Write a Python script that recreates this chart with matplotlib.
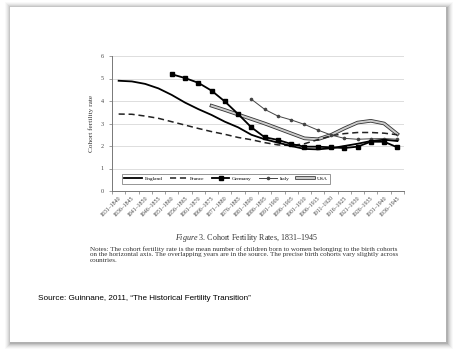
import numpy as np
import matplotlib
matplotlib.use("Agg")
import matplotlib.pyplot as plt
import matplotlib.patheffects as pe
from matplotlib.patches import Rectangle

plt.rcParams["mathtext.fontset"] = "custom"
plt.rcParams["mathtext.rm"] = "Liberation Serif"
plt.rcParams["mathtext.it"] = "Liberation Serif:italic"

nan = np.nan
periods = [f"{s}\u2013{s+9}" for s in range(1831, 1937, 5)]

england = [4.9, 4.87, 4.76, 4.56, 4.27, 3.93, 3.64, 3.38, 3.08, 2.83, 2.5,
           2.3, 2.15, 2.0, 1.87, 1.85, 1.9, 2.0, 2.1, 2.22, 2.28, 2.22]
france = [3.42, 3.41, 3.33, 3.23, 3.08, 2.93, 2.78, 2.64, 2.52, 2.38, 2.28,
          2.15, 2.05, 2.02, 2.1, 2.28, 2.45, 2.55, 2.6, 2.6, 2.57, 2.5]
germany = [nan, nan, nan, nan, 5.19, 5.02, 4.81, 4.46, 3.98, 3.42, 2.83,
           2.39, 2.27, 2.09, 1.97, 1.97, 1.94, 1.91, 1.97, 2.19, 2.19, 1.94]
italy = [nan] * 10 + [4.08, 3.63, 3.33, 3.16, 2.96, 2.71, 2.49, 2.34, 2.3,
                      2.32, 2.33, 2.3]
usa = [nan] * 7 + [3.79, 3.6, 3.4, 3.2, 3.0, 2.78, 2.56, 2.34, 2.3, 2.49,
                   2.78, 3.04, 3.12, 3.0, 2.53]

W, H = 456, 352
fig = plt.figure(figsize=(W / 100, H / 100), dpi=100)
fig.patch.set_facecolor("white")

# slide card with soft shadow
bx0, by0, bx1, by1 = 10, 7, 446, 342
for d, a in [(6, 0.025), (5, 0.035), (4, 0.045), (3, 0.06), (2, 0.08), (1, 0.1)]:
    fig.patches.append(Rectangle(((bx0 - d + 1) / W, 1 - (by1 + d + 1) / H),
                                 (bx1 - bx0 + 2 * d) / W, (by1 - by0 + 2 * d) / H,
                                 transform=fig.transFigure, facecolor="black",
                                 alpha=a, edgecolor="none", zorder=0))
fig.patches.append(Rectangle((bx0 / W, 1 - by1 / H), (bx1 - bx0) / W, (by1 - by0) / H,
                             transform=fig.transFigure, facecolor="white",
                             edgecolor="none", zorder=1))

serif = ["Liberation Serif", "DejaVu Serif"]
ax = fig.add_axes([112 / W, 1 - 191 / H, (404 - 112) / W, (191 - 56) / H])
ax.set_zorder(2)
ax.patch.set_alpha(0)
x = np.arange(len(periods))

ax.plot(x, england, color="black", lw=1.3, label="England", zorder=5)
ax.plot(x, france, color="#222222", lw=1.1, ls=(0, (4, 2.5)), label="France", zorder=4)
ax.plot(x, germany, color="black", lw=1.3, marker="s", ms=3.2, label="Germany", zorder=6)
ax.plot(x, italy, color="#444444", lw=0.7, marker="o", ms=1.6, label="Italy", zorder=4)
ax.plot(x, usa, color="#cccccc", lw=1.4, label="USA", zorder=3,
        path_effects=[pe.Stroke(linewidth=2.6, foreground="#333333"), pe.Normal()])

ax.set_xlim(-0.5, len(periods) - 0.5)
ax.set_ylim(0, 6)
ax.set_yticks(range(7))
ax.grid(axis="y", color="#dddddd", lw=0.7)
ax.set_axisbelow(True)
for s in ["top", "right"]:
    ax.spines[s].set_visible(False)
for s in ["left", "bottom"]:
    ax.spines[s].set_color("#777777")
    ax.spines[s].set_linewidth(0.7)
ax.set_xticks(x)
ax.set_xticklabels(periods, rotation=45, ha="right", rotation_mode="anchor",
                   fontsize=4.2, family=serif, color="#444444")
ax.set_xticks(np.arange(-0.5, len(periods), 1), minor=True)
ax.tick_params(axis="x", which="major", length=0, pad=3)
ax.tick_params(axis="x", which="minor", length=2, color="#777777", width=0.5)
ax.tick_params(axis="y", length=2, color="#777777", width=0.5, pad=4,
               labelsize=4.4, labelcolor="#444444")
for t in ax.get_yticklabels():
    t.set_family(serif)
ax.set_ylabel("Cohort fertility rate", fontsize=5.2, family=serif, color="#333333", labelpad=5)

leg = ax.legend(ncol=5, loc="lower left", bbox_to_anchor=(0.034, 0.055),
                prop={"family": serif, "size": 3.9}, frameon=True, fancybox=False,
                edgecolor="#666666", handlelength=3.2, columnspacing=1.4,
                handletextpad=0.5, borderpad=0.45, borderaxespad=0)
leg.get_frame().set_linewidth(0.6)
leg.set_zorder(10)

fig.text(247 / W, 1 - 238 / H, "$\\it{Figure}$ 3. Cohort Fertility Rates, 1831\u20131945",
         ha="center", va="center", fontsize=5.8, family=serif, color="#333333", zorder=3)
notes = ("Notes: The cohort fertility rate is the mean number of children born to women belonging to the birth cohorts\n"
         "on the horizontal axis. The overlapping years are in the source. The precise birth cohorts vary slightly across\n"
         "countries.")
fig.text(90 / W, 1 - 246 / H, notes, ha="left", va="top", fontsize=5.1,
         family=serif, color="#333333", linespacing=1.2, zorder=3)
fig.text(38 / W, 1 - 299 / H, "Source: Guinnane, 2011, \u201cThe Historical Fertility Transition\u201d",
         ha="left", va="center", fontsize=5.9, family=["Liberation Sans", "DejaVu Sans"],
         color="black", zorder=3)

fig.savefig("out.png", dpi=100)
